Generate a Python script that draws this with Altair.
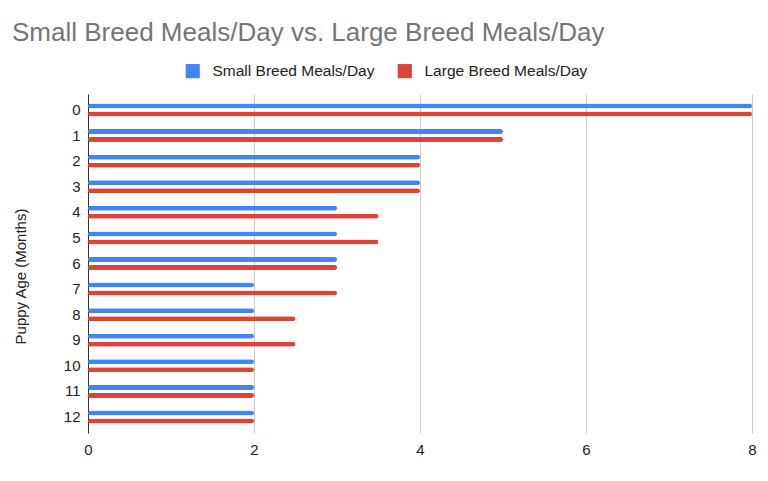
import altair as alt
import pandas as pd

ages = [str(i) for i in range(13)]
small = [8, 5, 4, 4, 3, 3, 3, 2, 2, 2, 2, 2, 2]
large = [8, 5, 4, 4, 3.5, 3.5, 3, 3, 2.5, 2.5, 2, 2, 2]
series = ["Small Breed Meals/Day", "Large Breed Meals/Day"]
colors = ["#4285f4", "#db4437"]
x_ticks = [0, 2, 4, 6, 8]

rows = []
for a, s, l in zip(ages, small, large):
    rows.append({"age": a, "series": series[0], "meals": s})
    rows.append({"age": a, "series": series[1], "meals": l})
df = pd.DataFrame(rows)

FONT = "Liberation Sans, Arial, sans-serif"

chart = alt.Chart(df).mark_bar(size=5, cornerRadius=2.5).encode(
    x=alt.X("meals:Q",
            scale=alt.Scale(domain=[0, 8], nice=False),
            axis=alt.Axis(values=x_ticks, title=None, domain=False, ticks=False,
                          labelPadding=9, labelFlush=False, gridColor="#cccccc",
                          labelFont=FONT, labelFontSize=15, labelColor="#222222")),
    y=alt.Y("age:N", sort=ages,
            scale=alt.Scale(paddingInner=0.37, paddingOuter=0.31),
            axis=alt.Axis(title="Puppy Age (Months)", grid=False, ticks=False,
                          domainColor="#333333", domainWidth=1, labelPadding=8,
                          labelFont=FONT, labelFontSize=15, labelColor="#222222",
                          titleFont=FONT, titleFontSize=15, titleFontWeight="normal",
                          titleColor="#222222", titleX=-68, titleY=182, titleAngle=270,
                          titleBaseline="middle", titleAlign="center")),
    yOffset=alt.YOffset("series:N", sort=series, scale=alt.Scale(domain=series)),
    color=alt.Color("series:N", sort=series,
                    scale=alt.Scale(domain=series, range=colors),
                    legend=alt.Legend(orient="none", legendX=97, legendY=-31,
                                      direction="horizontal", title=None,
                                      symbolType="square", symbolSize=200,
                                      symbolStrokeWidth=0, labelFont=FONT,
                                      labelFontSize=15.5, labelColor="#222222",
                                      labelOffset=12, columnPadding=22,
                                      labelLimit=400)),
).properties(
    width=664,
    height=339,
    title=alt.TitleParams("Small Breed Meals/Day vs. Large Breed Meals/Day",
                          anchor="start", frame="group", dx=-76, offset=-4,
                          baseline="alphabetic", font=FONT, fontSize=26,
                          fontWeight="normal", color="#757575"),
    autosize=alt.AutoSizeParams(type="none"),
    padding={"left": 80, "top": 86, "right": 8, "bottom": 35},
).configure_view(stroke=None)

chart.save("out.html", embed_options={"renderer": "svg", "actions": False})
